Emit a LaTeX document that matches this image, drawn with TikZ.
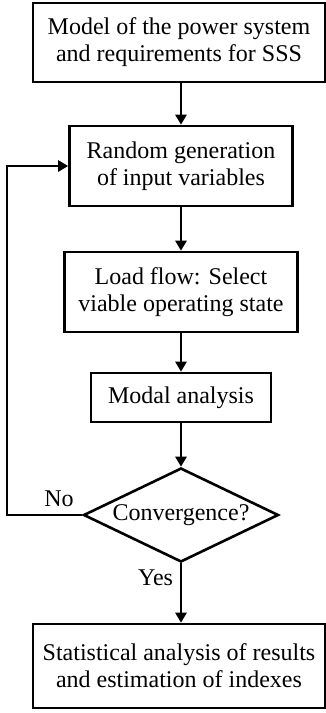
\documentclass[tikz,border=0pt]{standalone}
\usepackage{fontspec}
\setmainfont{Liberation Serif}
\usetikzlibrary{shapes.geometric,arrows.meta,calc}
\tikzstyle{line} = [draw, line width=1.3pt, -{Triangle[length=5pt,width=5.5pt]}]
\tikzstyle{block} = [draw, line width=1.3pt, rectangle, align=center, inner sep=0pt, font=\fontsize{12}{13.5}\selectfont]
\tikzstyle{decision} = [draw, line width=1.3pt, diamond, aspect=2, inner sep=0pt, minimum width=97.5pt, minimum height=47pt, font=\fontsize{12}{13.5}\selectfont]
\tikzstyle{lbl} = [font=\fontsize{12}{13.5}\selectfont]

\begin{document}
\begin{tikzpicture}
        \useasboundingbox (-90.5pt,21.25pt) rectangle (72.5pt,-335.25pt);
        \node[block, minimum width=146pt, minimum height=39.5pt] at (-1pt,0) (model) {Model of the power system\\and requirements for SSS};
        \node[block, below of=model, node distance=61.75pt, xshift=1pt, minimum width=111.5pt, minimum height=40pt] (gen) {Random generation\\of input variables};
        \node[block, below of=gen, node distance=63pt, minimum width=116.5pt, minimum height=40pt] (flow) {Load flow: Select\\viable operating state};
        \node[block, below of=flow, node distance=52.75pt, minimum width=90pt, minimum height=24.5pt] (modal) {Modal analysis};
        \node[decision, below of=modal, node distance=58.75pt] (conv) {Convergence?};
        \node[block, below of=conv, node distance=75.5pt, xshift=-1pt, minimum width=146pt, minimum height=42pt] (stats) {Statistical analysis of results\\and estimation of indexes};
        \coordinate (back) at ($(conv.west)+(-37.5pt,0)$);
        \path[line] (model.south -| gen) -- (gen);
        \path[line] (gen) -- (flow);
        \path[line] (flow) -- (modal);
        \path[line] (modal) -- (conv);
        \path[line] (conv) -- node[lbl, left, near start] {Yes} (stats.north -| conv.south);
        \path[line] (conv.west) -- node[lbl, above, pos=0.31] {No} (back) |- (gen.west);
    \end{tikzpicture}
\end{document}
